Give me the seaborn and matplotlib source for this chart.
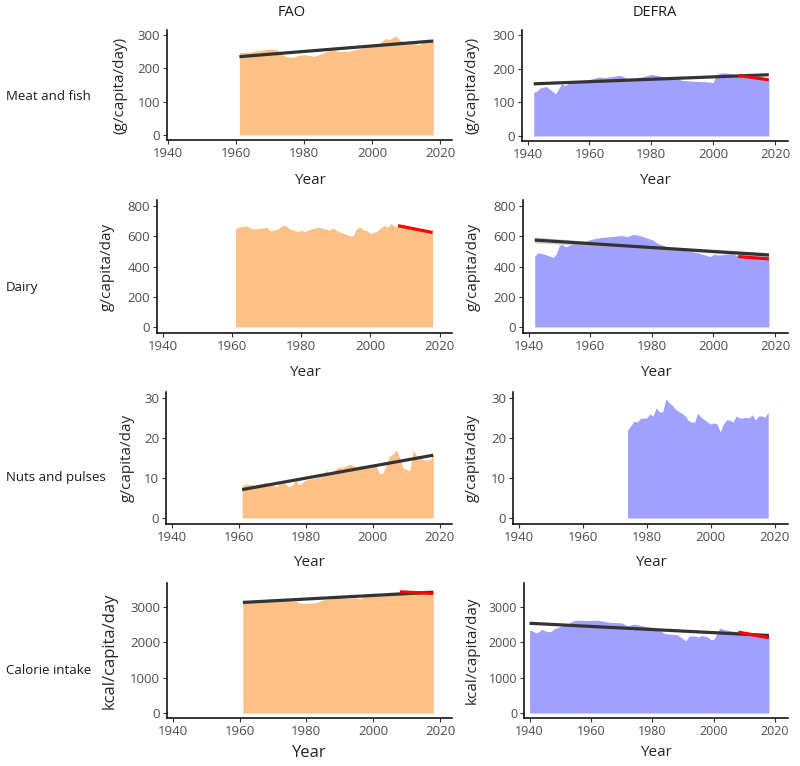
import matplotlib
matplotlib.use("Agg")
import matplotlib.pyplot as plt
import numpy as np
import pandas as pd
import seaborn as sns

# ------------------------------------------------------------------------------
# Data
# ------------------------------------------------------------------------------

row_names = ["Meat and fish", "Dairy", "Nuts and pulses", "Calorie intake"]
col_names = ["FAO", "DEFRA"]
x_ticks = [1940, 1960, 1980, 2000, 2020]

# Meat and fish
fao_meat_years = [1961, 1963, 1965, 1968, 1970, 1972, 1973, 1975, 1977, 1978,
                  1980, 1983, 1985, 1988, 1990, 1993, 1995, 1998, 2000, 2002,
                  2004, 2005, 2007, 2008, 2010, 2012, 2014, 2016, 2017, 2018]
fao_meat_values = [248, 247, 250, 255, 258, 256, 244, 234, 233, 238,
                   241, 236, 243, 256, 251, 251, 256, 262, 268, 274,
                   290, 286, 297, 285, 277, 275, 271, 287, 283, 280]
defra_meat_years = [1942, 1943, 1944, 1946, 1947, 1948, 1949, 1950, 1951, 1952,
                    1955, 1958, 1960, 1963, 1965, 1968, 1970, 1972, 1975, 1978,
                    1980, 1983, 1985, 1988, 1990, 1995, 1998, 2000, 2001, 2003,
                    2006, 2008, 2010, 2013, 2016, 2018]
defra_meat_values = [130, 133, 142, 147, 140, 133, 125, 140, 155, 150,
                     165, 164, 168, 175, 173, 178, 180, 172, 172, 178,
                     183, 178, 173, 171, 165, 162, 161, 158, 183, 188,
                     185, 180, 176, 173, 170, 168]

# Dairy
fao_dairy_years = [1961, 1962, 1964, 1966, 1968, 1970, 1971, 1973, 1975, 1977,
                   1979, 1980, 1981, 1983, 1985, 1987, 1988, 1989, 1991, 1993,
                   1994, 1995, 1996, 1997, 1998, 1999, 2000, 2002, 2004, 2005,
                   2006, 2007, 2009, 2012, 2015, 2018]
fao_dairy_values = [650, 660, 670, 648, 652, 660, 636, 645, 676, 645,
                    632, 640, 630, 650, 660, 650, 640, 655, 630, 612,
                    603, 602, 652, 660, 642, 638, 616, 636, 672, 660,
                    686, 665, 660, 650, 640, 625]
defra_dairy_years = [1942, 1943, 1945, 1947, 1948, 1949, 1950, 1951, 1952, 1955,
                     1958, 1960, 1963, 1965, 1968, 1970, 1972, 1974, 1975, 1977,
                     1980, 1982, 1985, 1990, 1995, 1998, 1999, 2000, 2002, 2004,
                     2006, 2008, 2010, 2015, 2018]
defra_dairy_values = [470, 490, 482, 468, 460, 482, 540, 545, 530, 555,
                      562, 578, 590, 595, 600, 606, 598, 612, 610, 598,
                      578, 552, 530, 510, 490, 472, 466, 480, 476, 481,
                      486, 468, 462, 456, 450]

# Nuts and pulses
fao_nuts_years = [1961, 1962, 1965, 1968, 1970, 1971, 1973, 1975, 1976, 1977,
                  1978, 1980, 1983, 1985, 1986, 1987, 1990, 1991, 1993, 1995,
                  1997, 1999, 2001, 2002, 2003, 2005, 2006, 2007, 2008, 2009,
                  2011, 2012, 2013, 2015, 2017, 2018]
fao_nuts_values = [8.0, 8.5, 8.2, 8.8, 8.5, 7.8, 9.0, 7.8, 8.2, 9.5,
                   8.3, 9.5, 10.0, 10.5, 12.0, 11.0, 12.8, 12.5, 13.5, 12.8,
                   13.2, 13.0, 13.0, 11.0, 11.2, 15.5, 16.0, 17.0, 15.0, 12.5,
                   11.8, 17.0, 15.5, 14.5, 14.5, 16.0]
defra_nuts_years = list(range(1974, 2019))
defra_nuts_values = [22.0, 23.0, 24.2, 24.0, 24.8, 25.0, 25.0, 26.0, 25.5, 27.5,
                     26.5, 26.5, 29.8, 28.8, 28.2, 27.2, 26.6, 26.2, 25.6, 24.4,
                     24.0, 24.0, 26.2, 25.2, 24.6, 24.0, 23.5, 23.8, 23.5, 21.5,
                     23.5, 24.5, 24.5, 24.0, 25.5, 25.0, 25.0, 25.2, 25.0, 25.8,
                     24.5, 25.5, 25.5, 25.2, 26.5]

# Calorie intake
fao_kcal_years = [1961, 1963, 1965, 1968, 1970, 1972, 1975, 1977, 1978, 1980,
                  1982, 1983, 1985, 1988, 1990, 1993, 1995, 1996, 1997, 2000,
                  2003, 2005, 2007, 2008, 2010, 2013, 2015, 2018]
fao_kcal_values = [3180, 3190, 3200, 3215, 3235, 3200, 3180, 3160, 3110, 3100,
                   3110, 3130, 3200, 3240, 3255, 3250, 3260, 3230, 3300, 3350,
                   3380, 3420, 3420, 3440, 3410, 3390, 3370, 3350]
defra_kcal_years = [1940, 1941, 1942, 1943, 1944, 1945, 1946, 1947, 1948, 1950,
                    1952, 1954, 1955, 1958, 1960, 1962, 1964, 1966, 1968, 1970,
                    1972, 1974, 1976, 1978, 1980, 1982, 1984, 1986, 1988, 1990,
                    1991, 1992, 1994, 1995, 1996, 1998, 1999, 2000, 2001, 2002,
                    2004, 2006, 2008, 2010, 2014, 2018]
defra_kcal_values = [2350, 2320, 2270, 2300, 2370, 2330, 2300, 2310, 2380, 2450,
                     2500, 2600, 2630, 2620, 2620, 2630, 2600, 2570, 2560, 2550,
                     2470, 2520, 2480, 2450, 2420, 2360, 2250, 2230, 2220, 2100,
                     2050, 2180, 2180, 2150, 2200, 2150, 2080, 2080, 2250, 2400,
                     2350, 2320, 2300, 2250, 2200, 2150]

# Linear trends (whole period, dark) and recent decade (red)
fao_meat_trend = ([1961, 2018], [235, 282])
defra_meat_trend = ([1942, 2018], [155, 182])
defra_meat_recent = ([2008, 2018], [180, 167])
fao_dairy_recent = ([2008, 2018], [670, 625])
defra_dairy_trend = ([1942, 2018], [575, 476])
defra_dairy_band = ([1942, 1980, 2018], [555, 519, 460], [595, 533, 492])
defra_dairy_recent = ([2008, 2018], [466, 450])
fao_nuts_trend = ([1961, 2018], [7.1, 15.7])
fao_kcal_trend = ([1961, 2018], [3130, 3420])
fao_kcal_recent = ([2008, 2018], [3430, 3385])
defra_kcal_trend = ([1940, 2018], [2540, 2195])
defra_kcal_recent = ([2008, 2018], [2290, 2130])

# ------------------------------------------------------------------------------
# Plot
# ------------------------------------------------------------------------------

sns.set_theme(style="ticks")
plt.rcParams['font.family'] = ['Open Sans', 'DejaVu Sans']

FAO_COLOR = '#FDC086'
DEFRA_COLOR = '#A0A0FF'
TREND_COLOR = '#333333'
TICK_COLOR = '#4D4D4D'

W, H = 800, 766
fig = plt.figure(figsize=(W / 100, H / 100), dpi=100)


def add_px_axes(left, right, top, bottom):
    return fig.add_axes([left / W, 1 - bottom / H, (right - left) / W,
                         (bottom - top) / H])


def draw_line(ax, line, color):
    sns.lineplot(x=line[0], y=line[1], ax=ax, color=color, linewidth=2.3,
                 solid_capstyle='butt')


def draw_panel(ax, years, values, color, xlim, ylim, yticks, ylabel,
               ylabel_x, xlabel_y, trends=(), recents=(), band=None,
               tick_size=9.5, label_size=11):
    ax.fill_between(years, 0, values, color=color, linewidth=0)
    if band is not None:
        ax.fill_between(band[0], band[1], band[2], color='#B5B5B5',
                        alpha=0.6, linewidth=0)
    for trend in trends:
        draw_line(ax, trend, TREND_COLOR)
    for recent in recents:
        draw_line(ax, recent, 'red')

    ax.set_xlim(*xlim)
    ax.set_ylim(*ylim)
    ax.set_xticks(x_ticks)
    ax.set_yticks(yticks)
    ax.tick_params(colors='#333333', labelcolor=TICK_COLOR,
                   labelsize=tick_size, length=3, width=0.8, pad=2)
    for side in ['left', 'bottom']:
        ax.spines[side].set_linewidth(1.1)
        ax.spines[side].set_color('black')
    sns.despine(ax=ax)

    ax.set_xlabel('Year', fontsize=label_size, va='center')
    ax.set_ylabel(ylabel, fontsize=label_size, va='center')
    bbox = ax.get_position()
    left_px, right_px = bbox.x0 * W, bbox.x1 * W
    top_px, bottom_px = (1 - bbox.y1) * H, (1 - bbox.y0) * H
    ax.yaxis.set_label_coords((ylabel_x - left_px) / (right_px - left_px), 0.5)
    ax.xaxis.set_label_coords(0.5, (bottom_px - xlabel_y) / (bottom_px - top_px))


FAO_XLIM = (1938.3, 2023.6)
DEFRA_XLIM = (1938.2, 2024.2)

# Row 1: meat and fish
ax = add_px_axes(167, 452, 30, 140)
draw_panel(ax, fao_meat_years, fao_meat_values, FAO_COLOR, (1939.7, 2023.5),
           (-15, 315), [0, 100, 200, 300], '(g/capita/day)', 120, 180,
           trends=[fao_meat_trend])
ax = add_px_axes(522, 788, 30, 141)
draw_panel(ax, defra_meat_years, defra_meat_values, DEFRA_COLOR, DEFRA_XLIM,
           (-15, 315), [0, 100, 200, 300], '(g/capita/day)', 472, 180,
           trends=[defra_meat_trend], recents=[defra_meat_recent])

# Row 2: dairy
ax = add_px_axes(157, 452, 200, 333)
draw_panel(ax, fao_dairy_years, fao_dairy_values, FAO_COLOR, FAO_XLIM,
           (-40, 840), [0, 200, 400, 600, 800], 'g/capita/day', 107, 372,
           recents=[fao_dairy_recent])
ax = add_px_axes(523, 788, 200, 333)
draw_panel(ax, defra_dairy_years, defra_dairy_values, DEFRA_COLOR, DEFRA_XLIM,
           (-40, 840), [0, 200, 400, 600, 800], 'g/capita/day', 473, 372,
           trends=[defra_dairy_trend], recents=[defra_dairy_recent],
           band=defra_dairy_band)

# Row 3: nuts and pulses
ax = add_px_axes(166, 452, 392, 524)
draw_panel(ax, fao_nuts_years, fao_nuts_values, FAO_COLOR, FAO_XLIM,
           (-1.5, 31.5), [0, 10, 20, 30], 'g/capita/day', 127, 563,
           trends=[fao_nuts_trend])
ax = add_px_axes(513, 788, 392, 524)
draw_panel(ax, defra_nuts_years, defra_nuts_values, DEFRA_COLOR, DEFRA_XLIM,
           (-1.5, 31.5), [0, 10, 20, 30], 'g/capita/day', 472, 563)

# Row 4: calorie intake
ax = add_px_axes(167, 452, 583, 718)
draw_panel(ax, fao_kcal_years, fao_kcal_values, FAO_COLOR, FAO_XLIM,
           (-140, 3680), [0, 1000, 2000, 3000], 'kcal/capita/day', 110, 753,
           trends=[fao_kcal_trend], recents=[fao_kcal_recent],
           label_size=12)
ax = add_px_axes(524, 788, 583, 718)
draw_panel(ax, defra_kcal_years, defra_kcal_values, DEFRA_COLOR, DEFRA_XLIM,
           (-140, 3680), [0, 1000, 2000, 3000], 'kcal/capita/day', 472, 753,
           trends=[defra_kcal_trend], recents=[defra_kcal_recent],
           tick_size=9)

# Row and column titles
row_y = [97, 288, 478, 670]
for name, y in zip(row_names, row_y):
    fig.text(6 / W, 1 - y / H, name, fontsize=9.5, ha='left', va='center',
             color='#1A1A1A')
for name, x in zip(col_names, [292, 655]):
    fig.text(x / W, 1 - 12 / H, name, fontsize=10.5, ha='center',
             va='center', color='#1A1A1A')

fig.savefig('out.png', dpi=100)
